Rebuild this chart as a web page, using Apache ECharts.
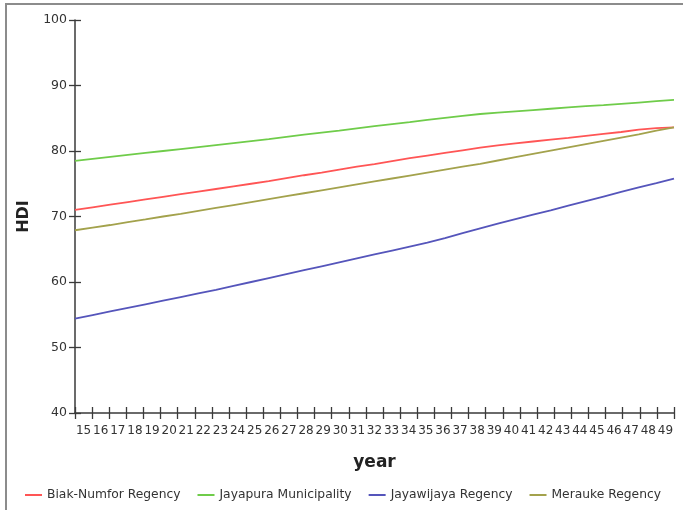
<!DOCTYPE html>
<html>
<head>
<meta charset="utf-8">
<script src="https://cdn.jsdelivr.net/npm/echarts@6/dist/echarts.min.js"></script>
<style>
  html, body { margin: 0; padding: 0; background: #fff; overflow: hidden; }
  #frame { position: absolute; left: 5px; top: 3px; width: 700px; height: 530px; border: 2px solid #8c8c8c; box-sizing: border-box; }
  #chart { position: absolute; left: 0; top: 0; width: 683px; height: 510px; }
</style>
</head>
<body>
<div id="frame"></div>
<div id="chart"></div>
<script>
const years = [15,16,17,18,19,20,21,22,23,24,25,26,27,28,29,30,31,32,33,34,35,36,37,38,39,40,41,42,43,44,45,46,47,48,49];
const yTicks = [40,50,60,70,80,90,100];
const biakNumfor = [71.0,71.4,71.8,72.2,72.6,73.0,73.4,73.8,74.2,74.6,75.0,75.4,75.85,76.3,76.7,77.15,77.6,78.0,78.45,78.9,79.3,79.7,80.1,80.5,80.85,81.15,81.45,81.75,82.0,82.3,82.6,82.9,83.25,83.5,83.6];
const jayapura = [78.5,78.8,79.1,79.4,79.7,80.0,80.3,80.6,80.9,81.2,81.5,81.8,82.15,82.5,82.8,83.1,83.45,83.8,84.1,84.4,84.75,85.05,85.35,85.65,85.85,86.05,86.25,86.45,86.65,86.85,87.0,87.2,87.4,87.6,87.8];
const jayawijaya = [54.4,54.95,55.5,56.05,56.6,57.15,57.7,58.25,58.8,59.4,60.0,60.6,61.2,61.8,62.4,63.0,63.6,64.2,64.8,65.4,66.0,66.7,67.45,68.2,68.9,69.6,70.3,70.95,71.65,72.35,73.05,73.75,74.45,75.1,75.8];
const merauke = [67.9,68.3,68.7,69.15,69.55,70.0,70.4,70.85,71.3,71.75,72.2,72.65,73.1,73.55,74.0,74.45,74.9,75.35,75.8,76.25,76.7,77.15,77.6,78.05,78.55,79.05,79.55,80.05,80.55,81.05,81.55,82.05,82.55,83.1,83.6];

const seriesNames = ['Biak-Numfor Regency','Jayapura Municipality','Jayawijaya Regency','Merauke Regency'];
const seriesData = [biakNumfor, jayapura, jayawijaya, merauke];
const colors = ['#ff5555','#6fcc4a','#5555bb','#a3a24c'];

const font = 'Tahoma, "DejaVu Sans", sans-serif';
const axisColor = '#3a3a3a';

const chart = echarts.init(document.getElementById('chart'), null, {renderer: 'canvas'});
const option = {
  backgroundColor: 'transparent',
  animation: false,
  color: colors,
  grid: { left: 75, right: 9, top: 20, bottom: 97, containLabel: false },
  legend: {
    left: 20, top: 484, width: 680,
    itemWidth: 17, itemHeight: 2, itemGap: 17,
    icon: 'rect',
    textStyle: { fontFamily: font, fontSize: 12.3, color: '#333' },
    data: seriesNames
  },
  xAxis: [
    {
      type: 'category', data: years, boundaryGap: true, position: 'bottom',
      axisLine: { lineStyle: { color: axisColor, width: 1.5 } },
      axisTick: { show: true, length: 6, interval: 0, lineStyle: { color: axisColor, width: 1.3 } },
      axisLabel: { interval: 0, margin: 12, fontFamily: font, fontSize: 12, color: '#333' },
      name: 'year', nameLocation: 'middle', nameGap: 41,
      nameTextStyle: { fontFamily: font, fontSize: 17, fontWeight: 'bold', color: '#222' }
    },
    {
      type: 'category', data: years, boundaryGap: true, position: 'bottom',
      axisLine: { show: false },
      axisTick: { show: true, inside: true, length: 6, interval: 0, lineStyle: { color: axisColor, width: 1.3 } },
      axisLabel: { show: false }
    },
    {
      type: 'value', min: 15, max: 49, show: false
    }
  ],
  yAxis: [
    {
      type: 'value', min: yTicks[0], max: yTicks[yTicks.length - 1], interval: 10,
      axisLine: { show: true, lineStyle: { color: axisColor, width: 1.5 } },
      axisTick: { show: true, length: 6, lineStyle: { color: axisColor, width: 1.3 } },
      axisLabel: { margin: 8, fontFamily: font, fontSize: 12.5, color: '#333' },
      splitLine: { show: false },
      name: 'HDI', nameLocation: 'middle', nameGap: 42, nameRotate: 90,
      nameTextStyle: { fontFamily: font, fontSize: 16, fontWeight: 'bold', color: '#222' }
    },
    {
      type: 'value', min: yTicks[0], max: yTicks[yTicks.length - 1], interval: 10, position: 'left',
      axisLine: { show: false },
      axisTick: { show: true, inside: true, length: 6, lineStyle: { color: axisColor, width: 1.3 } },
      axisLabel: { show: false },
      splitLine: { show: false }
    }
  ],
  series: seriesNames.map((name, i) => ({
    name: name,
    type: 'line',
    xAxisIndex: 2,
    yAxisIndex: 0,
    showSymbol: false,
    symbol: 'none',
    lineStyle: { width: 1.8, color: colors[i] },
    itemStyle: { color: colors[i] },
    data: years.map((y, j) => [y, seriesData[i][j]])
  }))
};
chart.setOption(option);
</script>
</body>
</html>
